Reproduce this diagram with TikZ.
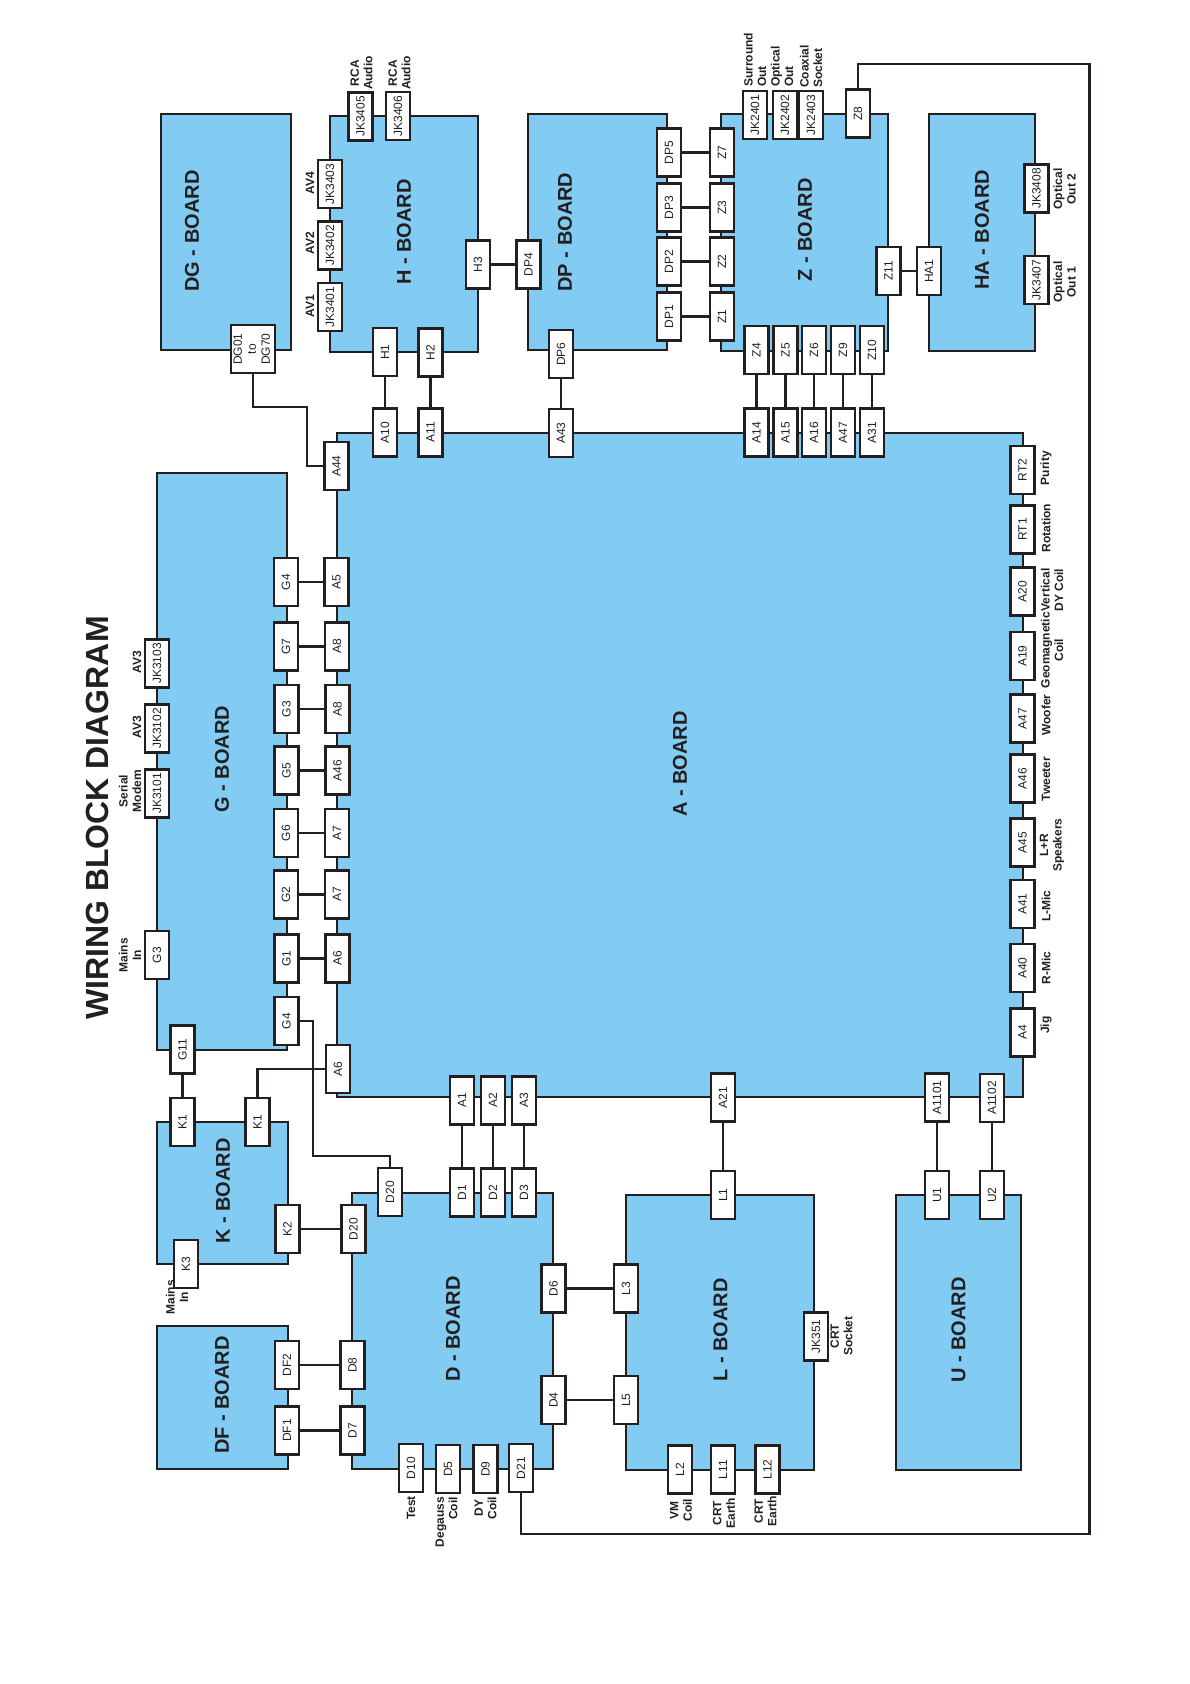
\documentclass[tikz,border=0pt]{standalone}
\usepackage{fontspec}
\usepackage{graphicx}
\setmainfont{Liberation Sans}
\definecolor{boardblue}{RGB}{130,204,243}
\definecolor{ink}{RGB}{35,31,32}
\tikzset{
  board/.style={draw=ink,fill=boardblue,line width=2.4pt,inner sep=0pt,outer sep=0pt,anchor=north west},
  boardtext/.style={text=ink,rotate=90,inner sep=0pt,font=\fontsize{20}{24}\selectfont\bfseries},
  portbox/.style={draw=ink,fill=white,line width=2.2pt,minimum width=24pt,minimum height=48pt,inner sep=0pt,text=ink,font=\fontsize{12}{14}\selectfont},
  wideport/.style={portbox,minimum width=44pt},
  lbl/.style={rotate=90,inner sep=0pt,align=center,text=ink,font=\fontsize{12}{13.5}\selectfont\bfseries},
  wire/.style={draw=ink,line width=2.4pt}
}
\newcommand{\bd}[5]{\node[board,minimum width={(#4-#2)*1pt},minimum height={(#5-#3)*1pt}] (#1) at (#2,#3) {};}
\newcommand{\bt}[4]{\node[boardtext] (#1) at (#2,#3) {#4};}
\newcommand{\port}[4]{\node[portbox] (#1) at (#2,#3) {\rotatebox{90}{#4}};}
\newcommand{\lab}[4]{\node[lbl] (#1) at (#2,#3) {#4};}
\begin{document}
\begin{tikzpicture}[x=1pt,y=-1pt]
\useasboundingbox (0,0) rectangle (1190,1684);
% boards
\bd{bDG}{161}{114}{291}{350}
\bd{bH}{330}{116}{478}{352}
\bd{bDP}{528}{114}{667}{350}
\bd{bZ}{721}{114}{888}{351}
\bd{bHA}{929}{114}{1035}{351}
\bd{bG}{157}{473}{287}{1050}
\bd{bA}{337}{433}{1023}{1097}
\bd{bK}{157}{1122}{288}{1264}
\bd{bDF}{157}{1326}{288}{1469}
\bd{bD}{352}{1193}{553}{1469}
\bd{bL}{626}{1195}{814}{1470}
\bd{bU}{896}{1195}{1021}{1470}
% board titles
\bt{tDG}{192}{231}{DG - BOARD}
\bt{tH}{404}{232}{H - BOARD}
\bt{tDP}{565}{232}{DP - BOARD}
\bt{tZ}{805}{230}{Z - BOARD}
\bt{tHA}{982}{230}{HA - BOARD}
\bt{tG}{222}{759}{G - BOARD}
\bt{tA}{680}{764}{A - BOARD}
\bt{tK}{223}{1191}{K - BOARD}
\bt{tDF}{222}{1395}{DF - BOARD}
\bt{tD}{453}{1329}{D - BOARD}
\bt{tL}{720.5}{1330}{L - BOARD}
\bt{tU}{958.5}{1330}{U - BOARD}
\node[rotate=90,inner sep=0pt,text=ink,font=\fontsize{32}{36}\selectfont\bfseries] (title) at (97,818) {WIRING BLOCK DIAGRAM};
% ports: top area
\node[wideport] (DG01) at (253,349) {\rotatebox{90}{\begin{tabular}{@{}c@{}}DG01\\to\\DG70\end{tabular}}};
\port{H1}{385}{352}{H1}
\port{H2}{430.5}{352.5}{H2}
\port{A10}{385}{432.5}{A10}
\port{A11}{430.5}{432.5}{A11}
\port{A43}{561}{433}{A43}
\port{A44}{336.5}{466}{A44}
\port{H3}{478}{264.5}{H3}
\port{DP4}{528.5}{264.5}{DP4}
\port{DP6}{561}{354}{DP6}
\port{JK3405}{360.5}{116.5}{JK3405}
\port{JK3406}{398}{116}{JK3406}
\port{JK3403}{330}{184}{JK3403}
\port{JK3402}{330}{245.5}{JK3402}
\port{JK3401}{330}{307}{JK3401}
\port{DP5}{669}{152.5}{DP5}
\port{DP3}{669}{207.5}{DP3}
\port{DP2}{669}{261.5}{DP2}
\port{DP1}{669}{316.5}{DP1}
\port{Z7}{722}{152.5}{Z7}
\port{Z3}{722}{207.5}{Z3}
\port{Z2}{722}{261.5}{Z2}
\port{Z1}{722}{316.5}{Z1}
\port{JK2401}{755}{115}{JK2401}
\port{JK2402}{785}{115}{JK2402}
\port{JK2403}{811}{115}{JK2403}
\port{Z8}{858}{113.5}{Z8}
\port{Z11}{888.5}{271}{Z11}
\port{HA1}{929}{271}{HA1}
\port{JK3408}{1036.5}{188.5}{JK3408}
\port{JK3407}{1036.5}{280}{JK3407}
\port{Z4}{756.5}{350}{Z4}
\port{Z5}{785.5}{350}{Z5}
\port{Z6}{814}{350}{Z6}
\port{Z9}{843}{350}{Z9}
\port{Z10}{872}{350}{Z10}
\port{A14}{756.5}{432.5}{A14}
\port{A15}{785.5}{432.5}{A15}
\port{A16}{814}{432.5}{A16}
\port{A47t}{843}{432.5}{A47}
\port{A31}{872}{432.5}{A31}
% ports: A right edge
\port{RT2}{1022.5}{470}{RT2}
\port{RT1}{1022.5}{529.5}{RT1}
\port{A20}{1022.5}{591.5}{A20}
\port{A19}{1022.5}{656}{A19}
\port{A47r}{1022.5}{718.5}{A47}
\port{A46r}{1022.5}{778.5}{A46}
\port{A45}{1022.5}{842.5}{A45}
\port{A41}{1022.5}{904}{A41}
\port{A40}{1022.5}{968}{A40}
\port{A4}{1022.5}{1032.5}{A4}
% ports: G row
\port{JK3103}{157}{663.5}{JK3103}
\port{JK3102}{157}{728.5}{JK3102}
\port{JK3101}{157}{793.5}{JK3101}
\port{G3t}{157}{955}{G3}
\port{G4a}{286}{582}{G4}
\port{G7}{286}{646.5}{G7}
\port{G3b}{286.5}{709}{G3}
\port{G5}{286.5}{770.5}{G5}
\port{G6}{286}{833}{G6}
\port{G2}{286}{894.5}{G2}
\port{G1}{286.5}{958.5}{G1}
\port{G4b}{286.5}{1021}{G4}
\port{A5}{336.5}{582}{A5}
\port{A8a}{337}{646.5}{A8}
\port{A8b}{337.5}{709}{A8}
\port{A46a}{337.5}{770.5}{A46}
\port{A7a}{337}{833}{A7}
\port{A7b}{337}{894.5}{A7}
\port{A6a}{337.5}{958.5}{A6}
\port{A6b}{338}{1069}{A6}
\port{G11}{182.5}{1049.5}{G11}
\port{K1a}{182.5}{1122}{K1}
\port{K1b}{257.5}{1122}{K1}
\port{K2}{287.5}{1229}{K2}
\port{K3}{186}{1264}{K3}
% ports: lower area
\port{A1}{462}{1100.5}{A1}
\port{A2}{493}{1100.5}{A2}
\port{A3}{524}{1100.5}{A3}
\port{D1}{462}{1192.5}{D1}
\port{D2}{493}{1192.5}{D2}
\port{D3}{524}{1192.5}{D3}
\port{D20t}{390}{1192}{D20}
\port{D20l}{353.5}{1229}{D20}
\port{A21}{723}{1097.5}{A21}
\port{L1}{723}{1195}{L1}
\port{A1101}{937}{1097.5}{A1101}
\port{U1}{937}{1195}{U1}
\port{A1102}{992}{1098}{A1102}
\port{U2}{992}{1195}{U2}
\port{D6}{553.5}{1288.5}{D6}
\port{L3}{626}{1288.5}{L3}
\port{D4}{553.5}{1400}{D4}
\port{L5}{626}{1400}{L5}
\port{D8}{352.5}{1365}{D8}
\port{DF2}{287}{1365}{DF2}
\port{D7}{352.5}{1430.5}{D7}
\port{DF1}{287}{1430.5}{DF1}
\port{D10}{411}{1468}{D10}
\port{D5}{448}{1469}{D5}
\port{D9}{485.5}{1469}{D9}
\port{D21}{521}{1468}{D21}
\port{L2}{680}{1469.5}{L2}
\port{L11}{723}{1469.5}{L11}
\port{L12}{767.5}{1469.5}{L12}
\port{JK351}{816}{1336.5}{JK351}
% connectors
\draw[wire] (H1) -- (A10);
\draw[wire] (H2) -- (A11);
\draw[wire] (DP6) -- (A43);
\draw[wire] (H3) -- (DP4);
\draw[wire] (DP5) -- (Z7);
\draw[wire] (DP3) -- (Z3);
\draw[wire] (DP2) -- (Z2);
\draw[wire] (DP1) -- (Z1);
\draw[wire] (Z11) -- (HA1);
\draw[wire] (Z4) -- (A14);
\draw[wire] (Z5) -- (A15);
\draw[wire] (Z6) -- (A16);
\draw[wire] (Z9) -- (A47t);
\draw[wire] (Z10) -- (A31);
\draw[wire] (G4a.east) -- (A5.west);
\draw[wire] (G7.east) -- (A8a.west);
\draw[wire] (G3b.east) -- (A8b.west);
\draw[wire] (G5.east) -- (A46a.west);
\draw[wire] (G6.east) -- (A7a.west);
\draw[wire] (G2.east) -- (A7b.west);
\draw[wire] (G1.east) -- (A6a.west);
\draw[wire] (G11.south) -- (K1a.north);
\draw[wire] (K2.east) -- (D20l.west);
\draw[wire] (A1) -- (D1);
\draw[wire] (A2) -- (D2);
\draw[wire] (A3) -- (D3);
\draw[wire] (A21) -- (L1);
\draw[wire] (A1101) -- (U1);
\draw[wire] (A1102) -- (U2);
\draw[wire] (D6) -- (L3);
\draw[wire] (D4) -- (L5);
\draw[wire] (DF2) -- (D8);
\draw[wire] (DF1) -- (D7);
\coordinate (wa) at (307,407);
\coordinate (wb) at (313,1156);
\coordinate (wc) at (1089.5,64);
\coordinate (wd) at (1089.5,1534);
\draw[wire] (DG01.south) |- (wa) |- (A44.west);
\draw[wire] (A6b.west) -| (K1b.north);
\draw[wire] (G4b.east) -| (wb) -| (D20t.north);
\draw[wire] (Z8.north) |- (wc) -- (wd) -| (D21.south);
% outside labels
\lab{lAV4}{310}{183}{AV4}
\lab{lAV2}{310}{243}{AV2}
\lab{lAV1}{310}{306}{AV1}
\lab{lRCAa}{361.5}{73}{RCA\\Audio}
\lab{lRCAb}{399.5}{73}{RCA\\Audio}
\node[lbl,anchor=west,align=left] (lSur) at (755,87) {Surround\\Out};
\node[lbl,anchor=west,align=left] (lOpt) at (782,87) {Optical\\Out};
\node[lbl,anchor=west,align=left] (lCoa) at (811,88) {Coaxial\\Socket};
\lab{lOp2}{1064.5}{189}{Optical\\Out 2}
\lab{lOp1}{1064.5}{282}{Optical\\Out 1}
\lab{lPur}{1046}{468}{Purity}
\lab{lRot}{1046}{528}{Rotation}
\lab{lVer}{1052}{590}{Vertical\\DY Coil}
\lab{lGeo}{1052}{650}{Geomagnetic\\Coil}
\lab{lWoo}{1046}{715}{Woofer}
\lab{lTwe}{1046}{779}{Tweeter}
\lab{lSpk}{1052}{845}{L+R\\Speakers}
\lab{lLM}{1046}{906}{L-Mic}
\lab{lRM}{1046}{968}{R-Mic}
\lab{lJig}{1046}{1025}{Jig}
\lab{lAV3b}{137}{662}{AV3}
\lab{lAV3a}{137}{727}{AV3}
\lab{lSer}{130}{791}{Serial\\Modem}
\lab{lMai}{130}{955}{Mains\\In}
\lab{lMa2}{177}{1297}{Mains\\In}
\lab{lTes}{411}{1508}{Test}
\node[lbl,anchor=east,align=right] (lDeg) at (446.5,1497) {Degauss\\Coil};
\lab{lDY}{485.5}{1508}{DY\\Coil}
\lab{lVM}{681}{1510}{VM\\Coil}
\lab{lCRa}{724}{1513}{CRT\\Earth}
\lab{lCRb}{765.5}{1511}{CRT\\Earth}
\lab{lCRs}{841.5}{1336}{CRT\\Socket}
\end{tikzpicture}
\end{document}
